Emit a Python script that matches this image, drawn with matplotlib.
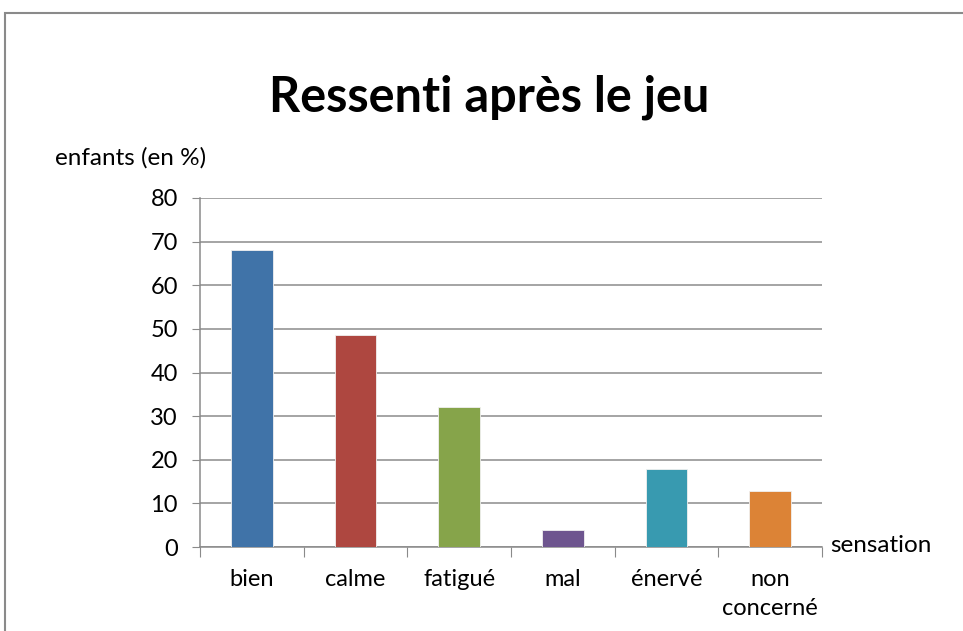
import matplotlib.pyplot as plt
from matplotlib.patches import Rectangle
import numpy as np

plt.rcParams['font.family'] = ['Lato', 'DejaVu Sans']

# Données du graphique
categories = ["bien", "calme", "fatigué", "mal", "énervé", "non\nconcerné"]
valeurs = [68, 48.5, 32, 4, 17.8, 12.8]
couleurs = ["#4073A8", "#AE4740", "#86A44A", "#6E558F", "#389AB0", "#DC8336"]
yticks = [0, 10, 20, 30, 40, 50, 60, 70, 80]

fig = plt.figure(figsize=(9.63, 6.31), dpi=100)

# cadre gris autour du graphique (coupé à droite et en bas)
fig.patches.append(Rectangle((5 / 963, -0.1), 1.2, 1 - 13 / 631 + 0.1,
                             transform=fig.transFigure, fill=False,
                             edgecolor="#8a8a8a", linewidth=1.5))

ax = fig.add_axes([200 / 963, 1 - 547 / 631, 622 / 963, 349 / 631])

x = np.arange(len(categories))
ax.bar(x, valeurs, width=0.4, color=couleurs, edgecolor="#f0f0f0", linewidth=0.6, zorder=3)

ax.set_xlim(-0.5, len(categories) - 0.5)
ax.set_ylim(0, 80)
ax.set_yticks(yticks)
ax.set_yticklabels([str(v) for v in yticks], fontsize=17)

# ticks de l'axe x aux frontières des catégories
ax.set_xticks(np.arange(-0.5, len(categories), 1))
ax.set_xticklabels([])
ax.set_xticks(x, minor=True)
ax.set_xticklabels(categories, minor=True, fontsize=17, linespacing=1.45)
ax.tick_params(axis="x", which="minor", length=0, pad=16)
ax.tick_params(axis="x", which="major", length=7, color="#8a8a8a", direction="out")
ax.tick_params(axis="y", length=6, color="#8a8a8a", direction="out", pad=10)

ax.grid(axis="y", color="#8c8c8c", linewidth=1.1, zorder=0)
for s in ["top", "right"]:
    ax.spines[s].set_visible(False)
for s in ["left", "bottom"]:
    ax.spines[s].set_color("#8a8a8a")
    ax.spines[s].set_linewidth(1.1)

fig.text(489 / 963, 1 - 97 / 631, "Ressenti après le jeu", ha="center", va="center",
         fontsize=35, fontweight="bold")
fig.text(55 / 963, 1 - 158 / 631, "enfants (en %)", ha="left", va="center", fontsize=17.5)
fig.text(830 / 963, 1 - 546 / 631, "sensation", ha="left", va="center", fontsize=17.5)

fig.savefig("out.png", dpi=100)
